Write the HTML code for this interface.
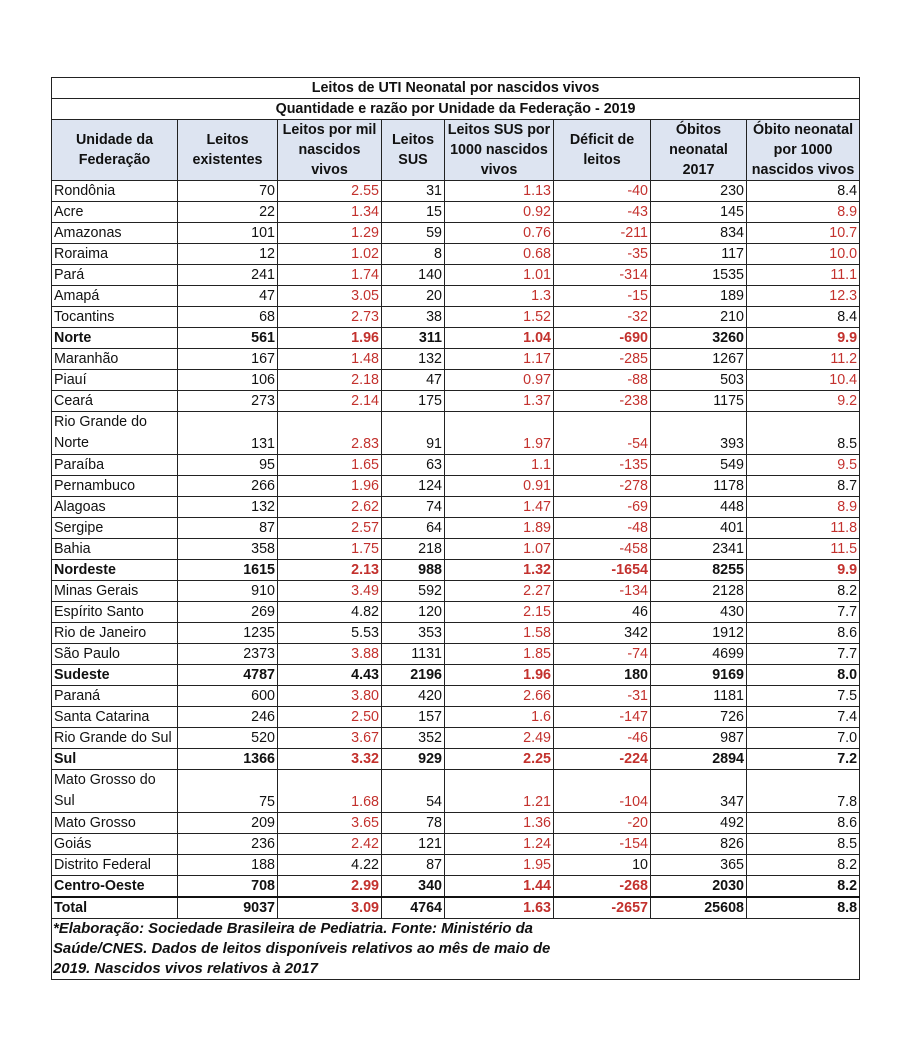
<!DOCTYPE html>
<html><head><meta charset="utf-8"><style>
html,body{margin:0;padding:0;background:#fff;width:914px;height:1049px;overflow:hidden}
table{position:absolute;left:51px;top:77px;border-collapse:collapse;table-layout:fixed;width:808px;font-family:"Liberation Sans",Arial,sans-serif;font-size:14.3px;color:#111}
td{border:1px solid #222;padding:0 2px;height:20px;line-height:20px;text-align:right;white-space:nowrap;overflow:hidden}
td:first-child{text-align:left}
.t td{text-align:center;font-weight:bold;height:20px}
.h td{background:#dde4f1;text-align:center;font-weight:bold;line-height:20px;height:60px;white-space:normal;vertical-align:middle;padding:0 1px}
.r{color:#c3312d}
.b td{font-weight:bold}
.d td{height:41px;vertical-align:bottom}
.d td:first-child{white-space:normal;line-height:21px}
.tot td{border-top:2.5px solid #111}
.f td{text-align:left;font-style:italic;font-weight:bold;white-space:normal;line-height:20px;height:58px;vertical-align:top;font-size:14.9px;padding-left:1px}
</style></head><body>
<table>
<colgroup><col style="width:126px"><col style="width:100px"><col style="width:104px"><col style="width:63px"><col style="width:109px"><col style="width:97px"><col style="width:96px"><col style="width:113px"></colgroup>
<tr class="t"><td colspan="8" style="text-align:center">Leitos de UTI Neonatal por nascidos vivos</td></tr>
<tr class="t"><td colspan="8" style="text-align:center">Quantidade e razão por Unidade da Federação - 2019</td></tr>
<tr class="h"><td style="text-align:center">Unidade da Federação</td><td>Leitos existentes</td><td>Leitos por mil nascidos vivos</td><td>Leitos SUS</td><td>Leitos SUS por 1000 nascidos vivos</td><td>Déficit de leitos</td><td>Óbitos neonatal 2017</td><td>Óbito neonatal por 1000 nascidos vivos</td></tr>
<tr><td>Rondônia</td><td>70</td><td class="r">2.55</td><td>31</td><td class="r">1.13</td><td class="r">-40</td><td>230</td><td>8.4</td></tr>
<tr><td>Acre</td><td>22</td><td class="r">1.34</td><td>15</td><td class="r">0.92</td><td class="r">-43</td><td>145</td><td class="r">8.9</td></tr>
<tr><td>Amazonas</td><td>101</td><td class="r">1.29</td><td>59</td><td class="r">0.76</td><td class="r">-211</td><td>834</td><td class="r">10.7</td></tr>
<tr><td>Roraima</td><td>12</td><td class="r">1.02</td><td>8</td><td class="r">0.68</td><td class="r">-35</td><td>117</td><td class="r">10.0</td></tr>
<tr><td>Pará</td><td>241</td><td class="r">1.74</td><td>140</td><td class="r">1.01</td><td class="r">-314</td><td>1535</td><td class="r">11.1</td></tr>
<tr><td>Amapá</td><td>47</td><td class="r">3.05</td><td>20</td><td class="r">1.3</td><td class="r">-15</td><td>189</td><td class="r">12.3</td></tr>
<tr><td>Tocantins</td><td>68</td><td class="r">2.73</td><td>38</td><td class="r">1.52</td><td class="r">-32</td><td>210</td><td>8.4</td></tr>
<tr class="b"><td>Norte</td><td>561</td><td class="r">1.96</td><td>311</td><td class="r">1.04</td><td class="r">-690</td><td>3260</td><td class="r">9.9</td></tr>
<tr><td>Maranhão</td><td>167</td><td class="r">1.48</td><td>132</td><td class="r">1.17</td><td class="r">-285</td><td>1267</td><td class="r">11.2</td></tr>
<tr><td>Piauí</td><td>106</td><td class="r">2.18</td><td>47</td><td class="r">0.97</td><td class="r">-88</td><td>503</td><td class="r">10.4</td></tr>
<tr><td>Ceará</td><td>273</td><td class="r">2.14</td><td>175</td><td class="r">1.37</td><td class="r">-238</td><td>1175</td><td class="r">9.2</td></tr>
<tr class="d"><td>Rio Grande do Norte</td><td>131</td><td class="r">2.83</td><td>91</td><td class="r">1.97</td><td class="r">-54</td><td>393</td><td>8.5</td></tr>
<tr><td>Paraíba</td><td>95</td><td class="r">1.65</td><td>63</td><td class="r">1.1</td><td class="r">-135</td><td>549</td><td class="r">9.5</td></tr>
<tr><td>Pernambuco</td><td>266</td><td class="r">1.96</td><td>124</td><td class="r">0.91</td><td class="r">-278</td><td>1178</td><td>8.7</td></tr>
<tr><td>Alagoas</td><td>132</td><td class="r">2.62</td><td>74</td><td class="r">1.47</td><td class="r">-69</td><td>448</td><td class="r">8.9</td></tr>
<tr><td>Sergipe</td><td>87</td><td class="r">2.57</td><td>64</td><td class="r">1.89</td><td class="r">-48</td><td>401</td><td class="r">11.8</td></tr>
<tr><td>Bahia</td><td>358</td><td class="r">1.75</td><td>218</td><td class="r">1.07</td><td class="r">-458</td><td>2341</td><td class="r">11.5</td></tr>
<tr class="b"><td>Nordeste</td><td>1615</td><td class="r">2.13</td><td>988</td><td class="r">1.32</td><td class="r">-1654</td><td>8255</td><td class="r">9.9</td></tr>
<tr><td>Minas Gerais</td><td>910</td><td class="r">3.49</td><td>592</td><td class="r">2.27</td><td class="r">-134</td><td>2128</td><td>8.2</td></tr>
<tr><td>Espírito Santo</td><td>269</td><td>4.82</td><td>120</td><td class="r">2.15</td><td>46</td><td>430</td><td>7.7</td></tr>
<tr><td>Rio de Janeiro</td><td>1235</td><td>5.53</td><td>353</td><td class="r">1.58</td><td>342</td><td>1912</td><td>8.6</td></tr>
<tr><td>São Paulo</td><td>2373</td><td class="r">3.88</td><td>1131</td><td class="r">1.85</td><td class="r">-74</td><td>4699</td><td>7.7</td></tr>
<tr class="b"><td>Sudeste</td><td>4787</td><td>4.43</td><td>2196</td><td class="r">1.96</td><td>180</td><td>9169</td><td>8.0</td></tr>
<tr><td>Paraná</td><td>600</td><td class="r">3.80</td><td>420</td><td class="r">2.66</td><td class="r">-31</td><td>1181</td><td>7.5</td></tr>
<tr><td>Santa Catarina</td><td>246</td><td class="r">2.50</td><td>157</td><td class="r">1.6</td><td class="r">-147</td><td>726</td><td>7.4</td></tr>
<tr><td>Rio Grande do Sul</td><td>520</td><td class="r">3.67</td><td>352</td><td class="r">2.49</td><td class="r">-46</td><td>987</td><td>7.0</td></tr>
<tr class="b"><td>Sul</td><td>1366</td><td class="r">3.32</td><td>929</td><td class="r">2.25</td><td class="r">-224</td><td>2894</td><td>7.2</td></tr>
<tr class="d"><td>Mato Grosso do Sul</td><td>75</td><td class="r">1.68</td><td>54</td><td class="r">1.21</td><td class="r">-104</td><td>347</td><td>7.8</td></tr>
<tr><td>Mato Grosso</td><td>209</td><td class="r">3.65</td><td>78</td><td class="r">1.36</td><td class="r">-20</td><td>492</td><td>8.6</td></tr>
<tr><td>Goiás</td><td>236</td><td class="r">2.42</td><td>121</td><td class="r">1.24</td><td class="r">-154</td><td>826</td><td>8.5</td></tr>
<tr><td>Distrito Federal</td><td>188</td><td>4.22</td><td>87</td><td class="r">1.95</td><td>10</td><td>365</td><td>8.2</td></tr>
<tr class="b"><td>Centro-Oeste</td><td>708</td><td class="r">2.99</td><td>340</td><td class="r">1.44</td><td class="r">-268</td><td>2030</td><td>8.2</td></tr>
<tr class="b tot"><td>Total</td><td>9037</td><td class="r">3.09</td><td>4764</td><td class="r">1.63</td><td class="r">-2657</td><td>25608</td><td>8.8</td></tr>
<tr class="f"><td colspan="8"><div style="width:520px">*Elaboração: Sociedade Brasileira de Pediatria. Fonte: Ministério da Saúde/CNES. Dados de leitos disponíveis relativos ao mês de maio de 2019. Nascidos vivos relativos à 2017</div></td></tr>
</table>
</body></html>
